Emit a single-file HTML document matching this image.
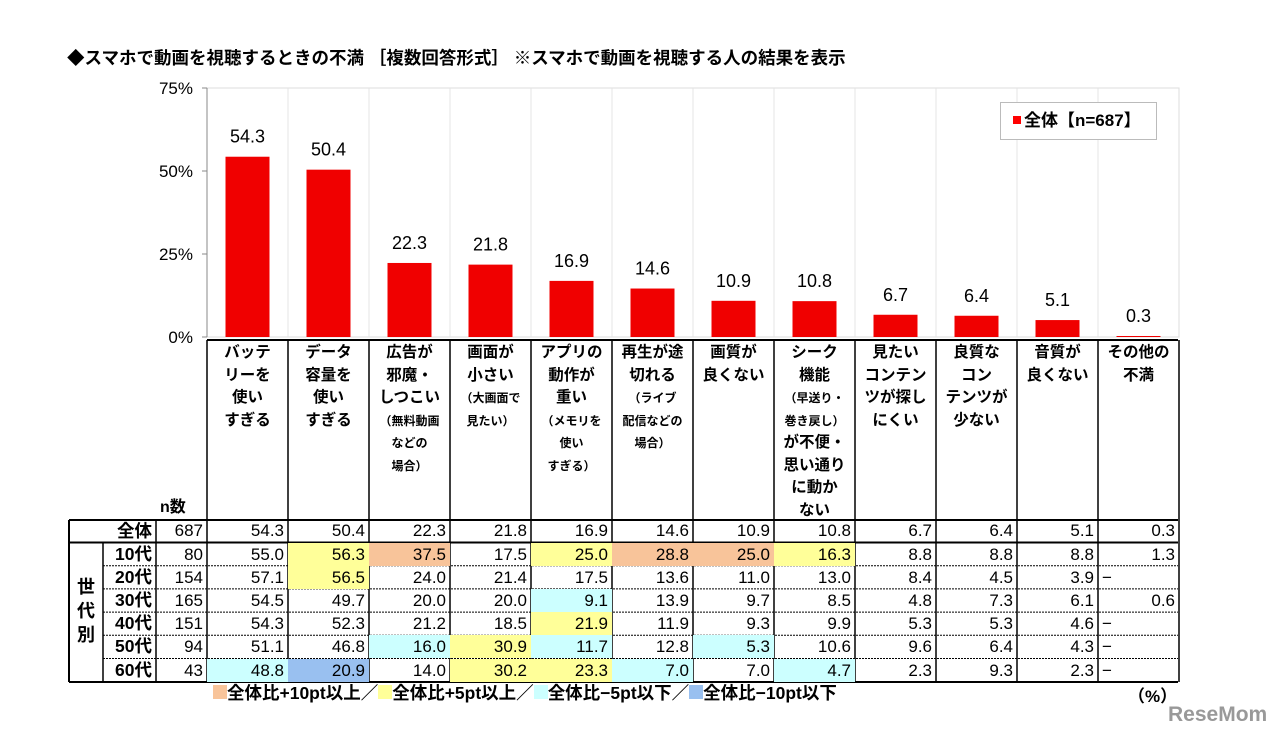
<!DOCTYPE html>
<html><head><meta charset="utf-8"><style>
body{margin:0;width:1280px;height:740px;background:#fff;position:relative;overflow:hidden;font-family:"Liberation Sans","Noto Sans CJK JP",sans-serif;color:#000}
.a{position:absolute}
.hdr{position:absolute;text-align:center;font-weight:bold;font-size:15.5px;line-height:22.5px;white-space:nowrap}
.hdr .s{font-size:12px}
.cell{position:absolute;text-align:right;font-size:17px;line-height:23px;box-sizing:border-box;padding-right:4px}
</style></head><body>
<div class="a" style="left:67px;top:45px;font-size:17.5px;font-weight:bold;white-space:nowrap">◆スマホで動画を視聴するときの不満 ［複数回答形式］ ※スマホで動画を視聴する人の結果を表示</div>
<svg id="chart" class="a" style="left:0;top:0" width="1280" height="740"></svg>
<div class="a" style="left:1000px;top:102px;width:157px;height:38px;box-sizing:border-box;border:1px solid #bbb;background:#fff;font-weight:bold;font-size:17px;line-height:36px;padding-left:12px;white-space:nowrap"><span style="display:inline-block;width:8px;height:8px;background:#f00;margin-right:3px;vertical-align:2px"></span>全体【n=687】</div>
<div id="tbl"></div>
<div class="a" style="left:213px;top:682px;font-weight:bold;font-size:17.5px;white-space:nowrap;line-height:22px">
<span style="display:inline-block;width:14px;height:14px;background:#f8c49a"></span>全体比+10pt以上／<span style="display:inline-block;width:14px;height:14px;background:#ffff99"></span>全体比+5pt以上／<span style="display:inline-block;width:14px;height:14px;background:#ccffff"></span>全体比−5pt以下／<span style="display:inline-block;width:14px;height:14px;background:#99c0f0"></span>全体比−10pt以下</div>
<div class="a" style="left:1128px;top:682px;font-weight:bold;font-size:17px">（%）</div>
<div class="a" style="left:1168px;top:703px;font-weight:bold;font-size:21px;color:#999">ReseMom</div>
<script>
const categories=["バッテ<br>リーを<br>使い<br>すぎる","データ<br>容量を<br>使い<br>すぎる","広告が<br>邪魔・<br>しつこい<br><span class=s>（無料動画<br>などの<br>場合）</span>","画面が<br>小さい<br><span class=s>（大画面で<br>見たい）</span>","アプリの<br>動作が<br>重い<br><span class=s>（メモリを<br>使い<br>すぎる）</span>","再生が途<br>切れる<br><span class=s>（ライブ<br>配信などの<br>場合）</span>","画質が<br>良くない","シーク<br>機能<br><span class=s>（早送り・<br>巻き戻し）</span><br>が不便・<br>思い通り<br>に動か<br>ない","見たい<br>コンテン<br>ツが探し<br>にくい","良質な<br>コン<br>テンツが<br>少ない","音質が<br>良くない","その他の<br>不満"];
const totals=[54.3,50.4,22.3,21.8,16.9,14.6,10.9,10.8,6.7,6.4,5.1,0.3];
const yTicks=[0,25,50,75];
const rowLabels=["全体","10代","20代","30代","40代","50代","60代"];
const nCounts=[687,80,154,165,151,94,43];
const rows=[
[54.3,50.4,22.3,21.8,16.9,14.6,10.9,10.8,6.7,6.4,5.1,0.3],
[55.0,56.3,37.5,17.5,25.0,28.8,25.0,16.3,8.8,8.8,8.8,1.3],
[57.1,56.5,24.0,21.4,17.5,13.6,11.0,13.0,8.4,4.5,3.9,null],
[54.5,49.7,20.0,20.0,9.1,13.9,9.7,8.5,4.8,7.3,6.1,0.6],
[54.3,52.3,21.2,18.5,21.9,11.9,9.3,9.9,5.3,5.3,4.6,null],
[51.1,46.8,16.0,30.9,11.7,12.8,5.3,10.6,9.6,6.4,4.3,null],
[48.8,20.9,14.0,30.2,23.3,7.0,7.0,4.7,2.3,9.3,2.3,null]];
const X0=207,CW=81,Y0=337,YT=88,YMAX=75;
const xc=i=>X0+CW*i+CW/2;
const y=v=>Y0-(v/YMAX)*(Y0-YT);
const svg=document.getElementById('chart');
const NS='http://www.w3.org/2000/svg';
function mk(t,a){const e=document.createElementNS(NS,t);for(const k in a)e.setAttribute(k,a[k]);svg.appendChild(e);return e;}
let fr=mk('rect',{x:X0,y:YT,width:CW*12,height:Y0-YT,fill:'none',stroke:'#ddd'});

for(let i=1;i<12;i++){let g=mk('line',{x1:X0+CW*i,x2:X0+CW*i,y1:YT,y2:Y0,stroke:'#e4e4e4'});}
let ax=mk('line',{x1:X0,x2:X0,y1:YT,y2:Y0,stroke:'#888'});
yTicks.forEach(t=>{
 let tk=mk('line',{x1:X0-5,x2:X0,y1:y(t),y2:y(t),stroke:'#888'});
 let tx=mk('text',{x:X0-14,y:y(t)+6,'text-anchor':'end','font-size':'17','font-family':'Liberation Sans, sans-serif'});tx.textContent=t+'%';
 
});
totals.forEach((v,i)=>{
 let r=mk('rect',{x:xc(i)-22,y:y(v),width:44,height:Y0-y(v),fill:'#f00000'});
 
 let t=mk('text',{x:xc(i),y:y(v)-14,'text-anchor':'middle','font-size':'18','font-family':'Liberation Sans, sans-serif'});t.textContent=v.toFixed(1);
 
});
const hl={"1,1":"#ffff99","1,2":"#f8c49a","1,4":"#ffff99","1,5":"#f8c49a","1,6":"#f8c49a","1,7":"#ffff99","2,1":"#ffff99","3,4":"#ccffff","4,4":"#ffff99","5,2":"#ccffff","5,3":"#ffff99","5,4":"#ccffff","5,6":"#ccffff","6,0":"#ccffff","6,1":"#99c0f0","6,3":"#ffff99","6,4":"#ffff99","6,5":"#ccffff","6,7":"#ccffff"};
const tbl=document.getElementById('tbl');
const rowTop=[520,542.5,565.7,588.9,612.1,635.3,658.5,681.7];
categories.forEach((c,i)=>{
 const d=document.createElement('div');d.className='hdr';d.innerHTML=c;
 d.style.left=(X0+CW*i)+'px';d.style.width=CW+'px';d.style.top='342px';
 tbl.appendChild(d);
});
const nh=document.createElement('div');nh.className='hdr';nh.textContent='n数';nh.style.left='160px';nh.style.top='497px';nh.style.fontSize='16px';
tbl.appendChild(nh);
rows.forEach((r,ri)=>{
 const top=rowTop[ri],h=rowTop[ri+1]-top;
 const lab=document.createElement('div');lab.className='cell';lab.textContent=rowLabels[ri];
 lab.style.cssText+=`left:103px;width:53px;top:${top}px;height:${h}px;line-height:${h}px;font-weight:bold;font-size:17.5px`;
 tbl.appendChild(lab);
 const n=document.createElement('div');n.className='cell';n.textContent=nCounts[ri];
 n.style.cssText+=`left:156px;width:51px;top:${top}px;height:${h}px;line-height:${h}px`;
 tbl.appendChild(n);
 r.forEach((v,ci)=>{
  const c=document.createElement('div');c.className='cell';
  const bg=hl[ri+','+ci]||'transparent';
  c.style.cssText+=`left:${X0+CW*ci}px;width:${CW}px;top:${top}px;height:${h}px;line-height:${h}px;background:${bg}`;
  if(v===null){c.textContent='−';c.style.textAlign='left';c.style.paddingLeft='4px';}else c.textContent=v.toFixed(1);
  tbl.appendChild(c);
 });
});
function L(x1,y1,x2,y2,w,dash){let l=mk('line',{x1,y1,x2,y2,stroke:'#000','stroke-width':w});if(dash)l.setAttribute('stroke-dasharray',dash);}
L(X0,340,1178,340,2);
for(let i=0;i<=12;i++)L(X0+CW*i,340,X0+CW*i,682,1.5);
L(69,520,1178,520,2);L(69,542.5,1178,542.5,2);L(69,682,1178,682,2);
L(69,520,69,682,2);L(103,542.5,103,682,1.5);L(156,520,156,682,1.5);
for(let i=2;i<7;i++)L(103,rowTop[i],1178,rowTop[i],1,'2,1');
</script>
<div class="a" style="left:73px;top:575px;width:26px;font-weight:bold;font-size:18px;line-height:24px;text-align:center">世<br>代<br>別</div>
</body></html>
